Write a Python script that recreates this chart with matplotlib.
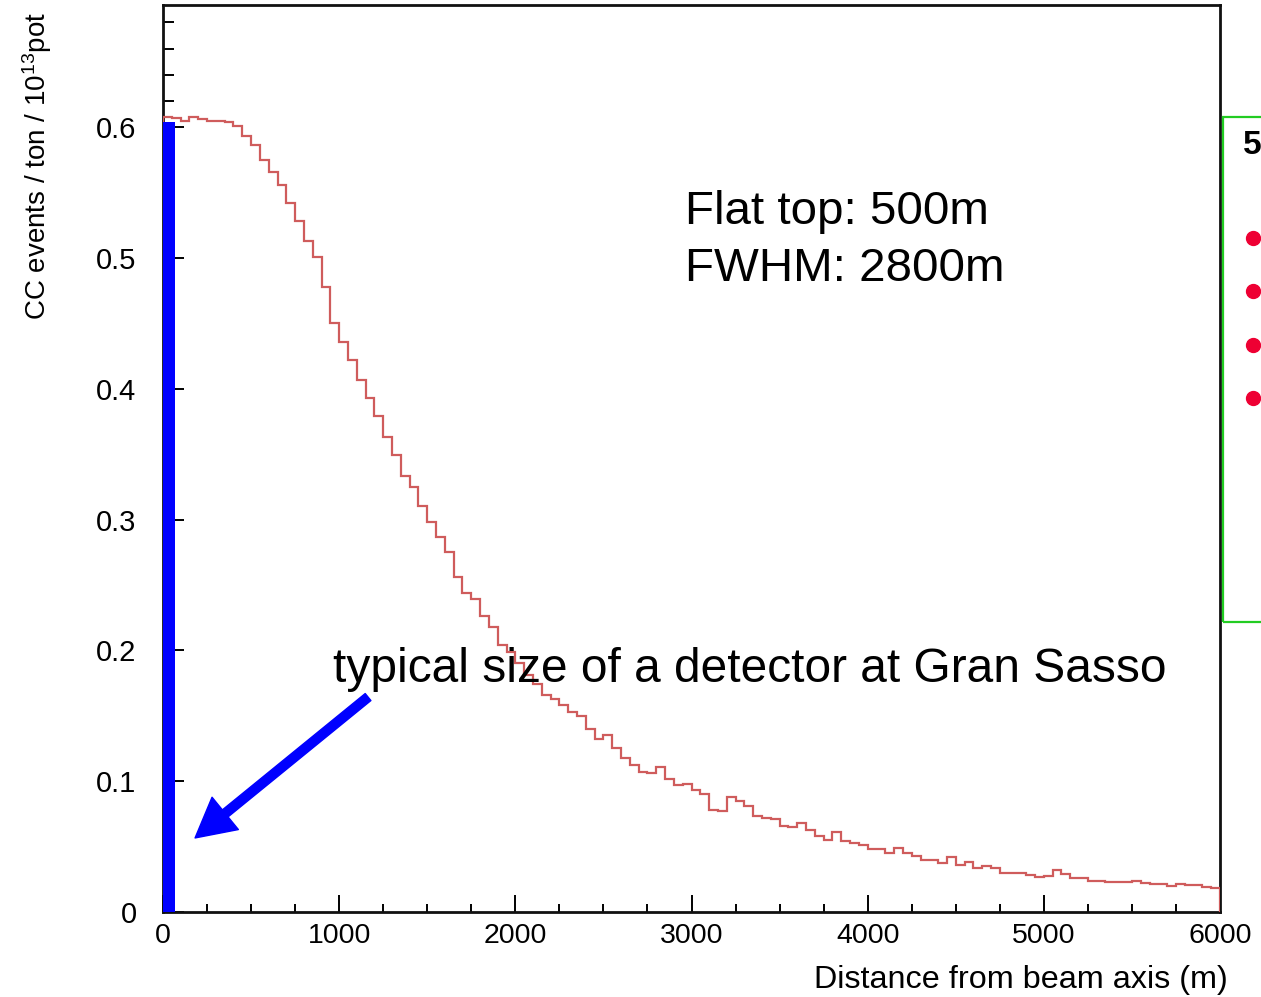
import numpy as np
import matplotlib
matplotlib.use("Agg")
import matplotlib.pyplot as plt
from matplotlib.lines import Line2D
from matplotlib.patches import Rectangle
from matplotlib.ticker import MultipleLocator

plt.rcParams['font.family'] = ['Liberation Sans', 'DejaVu Sans']
plt.rcParams['mathtext.fontset'] = 'custom'
plt.rcParams['mathtext.rm'] = 'Liberation Sans'
plt.rcParams['mathtext.it'] = 'Liberation Sans'

# ---- data ----
bin_edges_m = np.arange(0, 6001, 50)
cc_events = [
    0.608, 0.607, 0.605, 0.608, 0.606, 0.605, 0.605, 0.604,
    0.601, 0.593, 0.586, 0.575, 0.566, 0.556, 0.542, 0.528, 0.513, 0.501,
    0.478, 0.450, 0.436, 0.422, 0.407, 0.393,
    0.379, 0.363, 0.349, 0.333, 0.325, 0.310, 0.298, 0.287, 0.275, 0.256,
    0.244, 0.239,
    0.226, 0.218, 0.204, 0.199, 0.190, 0.181, 0.174, 0.166, 0.163, 0.158,
    0.153,
    0.150, 0.140, 0.132, 0.135, 0.125, 0.118, 0.112, 0.107, 0.106, 0.111,
    0.102, 0.097, 0.098, 0.093, 0.090, 0.078, 0.077, 0.088,
    0.085, 0.081, 0.073, 0.072, 0.071, 0.066, 0.065, 0.068, 0.063, 0.058,
    0.055, 0.061, 0.054, 0.0525, 0.051,
    0.048, 0.048, 0.0453, 0.0487, 0.045, 0.043, 0.040, 0.040, 0.0372, 0.042,
    0.036, 0.0385, 0.034, 0.035, 0.0334, 0.030, 0.030, 0.0296, 0.0283, 0.027,
    0.0272, 0.032, 0.0288, 0.0258, 0.026, 0.0239, 0.0235, 0.0233, 0.0227,
    0.023, 0.0235, 0.0219, 0.0214, 0.0214, 0.0199, 0.0212, 0.021, 0.0203,
    0.0194, 0.0181,
]
detector_width_m = 68
detector_height = 0.604
x_ticks = [0, 1000, 2000, 3000, 4000, 5000, 6000]
y_ticks = [0, 0.1, 0.2, 0.3, 0.4, 0.5, 0.6]
y_tick_labels = ["0", "0.1", "0.2", "0.3", "0.4", "0.5", "0.6"]
arrow_tail = (1164, 0.1643)
arrow_head = (182, 0.0566)

fig = plt.figure(figsize=(12.61, 9.97), dpi=100)
ax = fig.add_axes([163 / 1261, 85 / 997, (1220 - 163) / 1261, (912 - 5) / 997])

ax.stairs(cc_events, bin_edges_m, color='#cf5c5c', linewidth=1.6, zorder=3)
ax.bar(0, detector_height, width=detector_width_m, align='edge',
       color='#0000ff', zorder=5, clip_on=False)

ax.set_xlim(0, 6000)
ax.set_ylim(0, 0.6933)
ax.set_xticks(x_ticks)
ax.set_xticklabels([str(v) for v in x_ticks])
ax.xaxis.set_minor_locator(MultipleLocator(250))
ax.set_yticks(y_ticks)
ax.set_yticklabels(y_tick_labels)
ax.yaxis.set_minor_locator(MultipleLocator(0.02))

ax.tick_params(axis='x', which='major', direction='in', length=12, width=1.4,
               labelsize=20.5, pad=8)
ax.tick_params(axis='x', which='minor', direction='in', length=6, width=1.4)
ax.tick_params(axis='y', which='major', direction='in', length=15, width=1.4,
               labelsize=21, pad=19)
ax.tick_params(axis='y', which='minor', direction='in', length=8, width=1.4)
for s in ax.spines.values():
    s.set_linewidth(2)
    s.set_color('#111111')

# annotations
ax.text(2963, 0.526, "Flat top: 500m", fontsize=34.2, va='baseline', ha='left')
ax.text(2963, 0.4823, "FWHM: 2800m", fontsize=34.2, va='baseline', ha='left')
ax.text(965, 0.1758, "typical size of a detector at Gran Sasso", fontsize=34.5,
        va='baseline', ha='left', zorder=6)
ax.annotate('', xy=arrow_head, xytext=arrow_tail,
            arrowprops=dict(facecolor='#0000ff', edgecolor='#0000ff',
                            width=6.5, headwidth=30, headlength=28, shrink=0),
            zorder=6)

# axis labels
fig.text(1228 / 1261, 1 - 980 / 997, "Distance from beam axis (m)",
         fontsize=23.3, ha='right', va='center')
fig.text(37 / 1261, 1 - 166 / 997, r"CC events / ton / 10$^{13}$pot",
         fontsize=20, rotation=90, ha='center', va='center')

# partial green box from slide on the right edge
fig.add_artist(Rectangle((1223 / 1261, 1 - 622 / 997), 0.2, (622 - 117) / 997,
                         transform=fig.transFigure, fill=False,
                         edgecolor='#22cc22', linewidth=1.6))
fig.text(1243 / 1261, 1 - 145 / 997, "5", fontsize=24, fontweight='bold',
         ha='left', va='center')
for yb in [238, 291, 345, 398]:
    fig.add_artist(Line2D([1253 / 1261], [1 - yb / 997], marker='o',
                          markersize=10, color='#ee0033', linestyle='none',
                          transform=fig.transFigure))

fig.savefig("out.png", dpi=100)
